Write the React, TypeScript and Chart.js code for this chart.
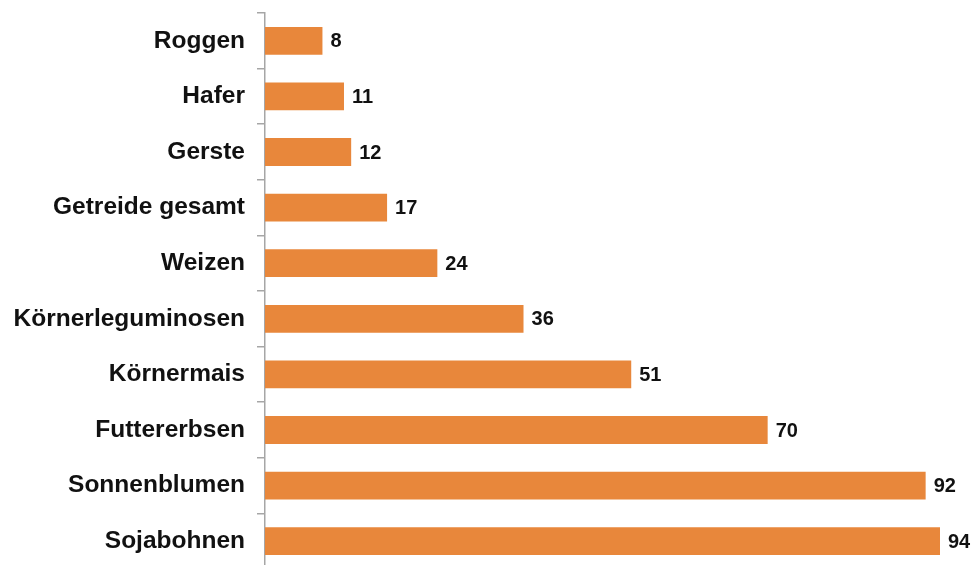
import React, { useEffect, useRef } from "react";
import { Chart, registerables } from "chart.js";

Chart.register(...registerables);

const categories = [
  "Roggen",
  "Hafer",
  "Gerste",
  "Getreide gesamt",
  "Weizen",
  "Körnerleguminosen",
  "Körnermais",
  "Futtererbsen",
  "Sonnenblumen",
  "Sojabohnen",
];
const values = [8, 11, 12, 17, 24, 36, 51, 70, 92, 94];

const FONT = "'Liberation Sans', Arial, 'DejaVu Sans', sans-serif";

const valueLabels = {
  id: "valueLabels",
  afterDatasetsDraw(chart: any) {
    const ctx = chart.ctx;
    const meta = chart.getDatasetMeta(0);
    ctx.save();
    ctx.font = `bold 20px ${FONT}`;
    ctx.fillStyle = "#111111";
    ctx.textAlign = "left";
    ctx.textBaseline = "middle";
    meta.data.forEach((el: any, i: number) => {
      ctx.fillText(String(values[i]), el.x + 8, el.y + 1);
    });
    ctx.restore();
  },
};

export default function App() {
  const ref = useRef<HTMLCanvasElement | null>(null);
  useEffect(() => {
    if (!ref.current) return;
    const chart = new Chart(ref.current, {
      type: "bar",
      data: {
        labels: categories,
        datasets: [
          {
            data: values,
            backgroundColor: "#E8873B",
            borderWidth: 0,
            barPercentage: 0.5,
            categoryPercentage: 1,
          },
        ],
      },
      options: {
        indexAxis: "y",
        animation: false,
        responsive: true,
        maintainAspectRatio: false,
        layout: { padding: { left: 0, right: 36, top: 13, bottom: 0 } },
        plugins: {
          legend: { display: false },
          tooltip: { enabled: false },
        },
        scales: {
          x: {
            display: false,
            min: 0,
            max: 94,
          },
          y: {
            afterFit(scale: any) {
              scale.width = 265;
              scale.paddingTop = 0;
              scale.paddingBottom = 0;
            },
            border: { display: true, color: "#a6a6a6", width: 1.5 },
            grid: {
              drawOnChartArea: false,
              drawTicks: true,
              tickLength: 8,
              color: "#a6a6a6",
              lineWidth: 1.5,
              offset: true,
            },
            ticks: {
              autoSkip: false,
              padding: 12,
              color: "#111111",
              font: { family: FONT, size: 24.5, weight: "bold" },
            },
          },
        },
      },
      plugins: [valueLabels],
    });
    return () => chart.destroy();
  }, []);

  return (
    <div
      style={{
        position: "fixed",
        left: 0,
        top: 0,
        width: 976,
        height: 569,
        background: "#ffffff",
      }}
    >
      <canvas ref={ref} />
    </div>
  );
}
